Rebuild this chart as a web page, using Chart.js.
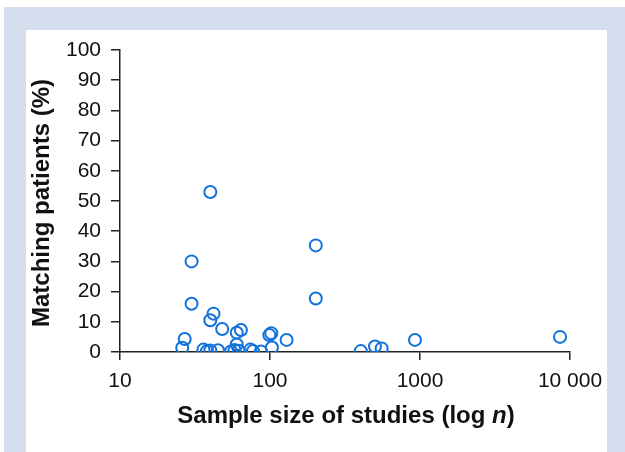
<!DOCTYPE html>
<html>
<head>
<meta charset="utf-8">
<script src="https://cdn.jsdelivr.net/npm/chart.js@4.4.1/dist/chart.umd.min.js"></script>
<style>
  html, body { margin: 0; padding: 0; background: #fff; }
  #myChart { display: block; }
</style>
</head>
<body>
<canvas id="myChart" width="625" height="452"></canvas>
<script>
// Dados
var sampleSizes = [40, 30, 30, 42, 40, 48, 60, 64, 99, 102, 129, 27, 26, 103, 60,
  36, 38, 40, 45, 55, 58, 62, 74, 77, 87,
  202, 202, 403, 501, 555, 926, 8580];
var matchingPct = [53, 30, 16, 12.7, 10.5, 7.6, 6.4, 7.3, 5.6, 6.2, 4, 4.3, 1.4, 1.5, 2.5,
  0.8, 0.3, 0.5, 0.6, 0.2, 0.7, 0.4, 0.8, 0.3, 0.2,
  35.3, 17.7, 0.3, 1.8, 1.2, 4, 5];
var xTickValues = [10, 100, 1000, 10000];
var xTickLabels = ['10', '100', '1000', '10 000'];
var yTitle = 'Matching patients (%)';
var xTitleParts = ['Sample size of studies (log ', 'n', ')'];

var points = sampleSizes.map(function (n, i) {
  return { x: n, y: matchingPct[i] };
});

// Fundo e moldura azul clara
var framePlugin = {
  id: 'frame',
  beforeDraw: function (chart) {
    var ctx = chart.ctx;
    ctx.save();
    ctx.fillStyle = '#ffffff';
    ctx.fillRect(0, 0, chart.width, chart.height);
    ctx.fillStyle = '#d5deef';
    ctx.fillRect(4, 7, chart.width - 4, chart.height - 7);
    ctx.fillStyle = '#ffffff';
    ctx.fillRect(26, 30, 581, chart.height - 30);
    ctx.restore();
  }
};

// Títulos dos eixos (com n em itálico)
var titlesPlugin = {
  id: 'titles',
  afterDraw: function (chart) {
    var ctx = chart.ctx;
    var area = chart.chartArea;
    ctx.save();
    ctx.fillStyle = '#111';
    ctx.textBaseline = 'middle';

    // eixo y
    ctx.font = 'bold 24px "Liberation Sans", Arial, sans-serif';
    ctx.translate(42, (area.top + area.bottom) / 2 + 2);
    ctx.rotate(-Math.PI / 2);
    ctx.textAlign = 'center';
    ctx.fillText(yTitle, 0, 0);
    ctx.setTransform(1, 0, 0, 1, 0, 0);

    // eixo x
    var fonts = ['bold 24px "Liberation Sans", Arial, sans-serif',
      'italic bold 24px "Liberation Sans", Arial, sans-serif',
      'bold 24px "Liberation Sans", Arial, sans-serif'];
    var widths = xTitleParts.map(function (t, i) {
      ctx.font = fonts[i];
      return ctx.measureText(t).width;
    });
    var total = widths.reduce(function (a, b) { return a + b; }, 0);
    var x = (area.left + area.right) / 2 - total / 2 + 1;
    ctx.textAlign = 'left';
    xTitleParts.forEach(function (t, i) {
      ctx.font = fonts[i];
      ctx.fillText(t, x, 416);
      x += widths[i];
    });
    ctx.restore();
  }
};

var config = {
  type: 'scatter',
  data: {
    datasets: [{
      data: points,
      borderColor: '#1272dc',
      backgroundColor: 'rgba(0,0,0,0)',
      borderWidth: 2,
      pointRadius: 6,
      pointHoverRadius: 6
    }]
  },
  options: {
    responsive: false,
    animation: false,
    devicePixelRatio: 1,
    layout: { padding: { left: 0, top: 50, right: 55, bottom: 0 } },
    plugins: {
      legend: { display: false },
      tooltip: { enabled: false }
    },
    scales: {
      x: {
        type: 'logarithmic',
        min: 10,
        max: 10000,
        afterFit: function (scale) { scale.height = 100; },
        afterBuildTicks: function (scale) {
          scale.ticks = xTickValues.map(function (v) { return { value: v }; });
        },
        border: { display: true, color: '#222', width: 1.5 },
        grid: { drawOnChartArea: false, drawTicks: true, tickLength: 8, color: '#222', lineWidth: 1.5 },
        ticks: {
          autoSkip: false,
          maxRotation: 0,
          padding: 9,
          color: '#111',
          font: { family: '"Liberation Sans", Arial, sans-serif', size: 21 },
          callback: function (value) {
            var i = xTickValues.indexOf(value);
            return i >= 0 ? xTickLabels[i] : '';
          }
        }
      },
      y: {
        min: 0,
        max: 100,
        afterFit: function (scale) { scale.width = 120; },
        border: { display: true, color: '#222', width: 1.5 },
        grid: { drawOnChartArea: false, drawTicks: true, tickLength: 9, color: '#222', lineWidth: 1.5 },
        ticks: {
          stepSize: 10,
          padding: 10,
          color: '#111',
          font: { family: '"Liberation Sans", Arial, sans-serif', size: 21 }
        }
      }
    }
  },
  plugins: [framePlugin, titlesPlugin]
};

var chart = new Chart(document.getElementById('myChart').getContext('2d'), config);
</script>
</body>
</html>
